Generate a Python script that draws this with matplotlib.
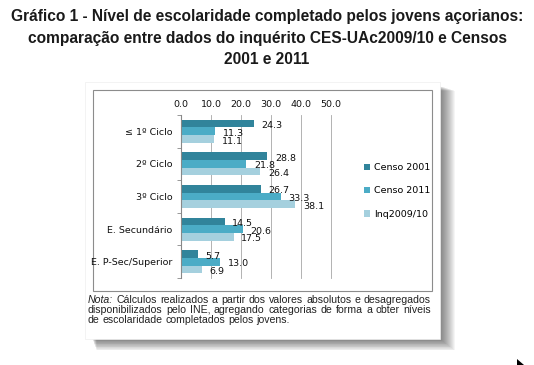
import numpy as np
import matplotlib
matplotlib.use("Agg")
import matplotlib.pyplot as plt
from matplotlib.patches import Rectangle, Polygon

# dados
categorias = ["≤ 1º Ciclo", "2º Ciclo", "3º Ciclo", "E. Secundário", "E. P-Sec/Superior"]
censo_2001 = [24.3, 28.8, 26.7, 14.5, 5.7]
censo_2011 = [11.3, 21.8, 33.3, 20.6, 13.0]
inq_2009 = [11.1, 26.4, 38.1, 17.5, 6.9]
series = ["Censo 2001", "Censo 2011", "Inq2009/10"]
cores = ["#31849b", "#4bacc6", "#a5d0de"]
xticks = [0, 10, 20, 30, 40, 50]

titulo = ["Gráfico 1 - Nível de escolaridade completado pelos jovens açorianos:",
          "comparação entre dados do inquérito CES-UAc2009/10 e Censos",
          "2001 e 2011"]
nota = [["Nota:", "Cálculos", "realizados", "a", "partir", "dos", "valores", "absolutos", "e", "desagregados"],
        "disponibilizados pelo INE, agregando categorias de forma a obter níveis".split(),
        "de escolaridade completados pelos jovens.".split()]

W, H = 534, 365
fig = plt.figure(figsize=(W / 100, H / 100), dpi=100)

def px(x0, y0, x1, y1):
    # caixa em pixels -> coordenadas da figura
    return x0 / W, 1 - y1 / H, (x1 - x0) / W, (y1 - y0) / H

# sombra da página (gradiente)
for i in range(16):
    l, b, w, h = px(92 + i * 0.3, 86 + i * 0.3, 440 + i * 1.0, 339 + i * 0.75)
    fig.patches.append(Rectangle((l, b), w, h, transform=fig.transFigure,
                                 facecolor="black", alpha=0.04, edgecolor="none", zorder=0))
l, b, w, h = px(85, 82, 440, 339)
fig.patches.append(Rectangle((l, b), w, h, transform=fig.transFigure,
                             facecolor="white", edgecolor="#eeeeee", lw=0.5, zorder=1))
l, b, w, h = px(93, 90, 432, 291)
fig.patches.append(Rectangle((l, b), w, h, transform=fig.transFigure,
                             facecolor="white", edgecolor="#8c8c8c", lw=0.8, zorder=2))

# título
for i, linha in enumerate(titulo):
    fig.text(0.5, 1 - (17 + 21 * i) / H, linha, ha="center", va="center",
             fontsize=11.2, fontweight="bold", family="Liberation Sans", color="#1a1a1a")

# gráfico
ax = fig.add_axes(px(181, 115, 331, 278))
ax.set_zorder(3)
y = np.arange(len(categorias))
h = 0.235
for k, (vals, cor) in enumerate(zip([censo_2001, censo_2011, inq_2009], cores)):
    pos = y + (k - 1) * h
    ax.barh(pos, vals, height=h, color=cor, label=series[k], zorder=2)
    for p, v in zip(pos, vals):
        ax.annotate(f"{v:.1f}", (v, p), xytext=(5.5, -1.5), textcoords="offset points",
                    va="center", ha="left", fontsize=6.8, color="#111111", zorder=4)

ax.set_xlim(0, 50)
ax.set_ylim(len(categorias) - 0.5, -0.5)
ax.xaxis.tick_top()
ax.set_xticks(xticks)
ax.set_xticklabels([f"{t:.1f}" for t in xticks], fontsize=6.8, color="#111111")
ax.tick_params(axis="x", length=0, pad=4)
ax.set_yticks(y)
ax.set_yticklabels(categorias, fontsize=6.8, color="#111111")
ax.tick_params(axis="y", length=0, pad=6)
ax.set_yticks(np.arange(len(categorias) + 1) - 0.5, minor=True)
ax.tick_params(axis="y", which="minor", length=3, color="#888888", direction="out")
ax.grid(axis="x", color="#a6a6a6", lw=0.6, zorder=0)
for gl in ax.get_xgridlines():
    gl.set_clip_on(False)
for s in ["top", "right", "bottom"]:
    ax.spines[s].set_visible(False)
ax.spines["left"].set_color("#888888")
ax.spines["left"].set_linewidth(0.8)

fig.legend(loc="center left", bbox_to_anchor=(355 / W, 1 - 191 / H), frameon=False,
           fontsize=6.8, handlelength=0.7, handleheight=0.7, handletextpad=0.4,
           labelspacing=1.5)

# nota justificada
fig.canvas.draw()
r = fig.canvas.get_renderer()
x0, x1 = 88, 431
fs = 7.6
for i, palavras in enumerate(nota):
    yl = 1 - (300 + 10 * i) / H
    tts = []
    for j, pal in enumerate(palavras):
        st = "italic" if (i == 0 and j == 0) else "normal"
        tts.append(fig.text(0, yl, pal, fontsize=fs, family="Liberation Sans",
                            style=st, va="center", ha="left", color="#222222"))
    larg = [t.get_window_extent(r).width for t in tts]
    if i < len(nota) - 1:
        gap = (x1 - x0 - sum(larg)) / (len(tts) - 1)
    else:
        gap = 2.8
    x = x0
    for t, wd in zip(tts, larg):
        t.set_x(x / W)
        x += wd + gap

# cursor do rato no canto
cur = [(517, 359), (517, 368), (519.5, 365.5), (524, 366), (524, 365)]
fig.patches.append(Polygon([(a / W, 1 - b / H) for a, b in cur], closed=True,
                           transform=fig.transFigure, facecolor="black", edgecolor="none"))

fig.savefig("out.png", dpi=100)
